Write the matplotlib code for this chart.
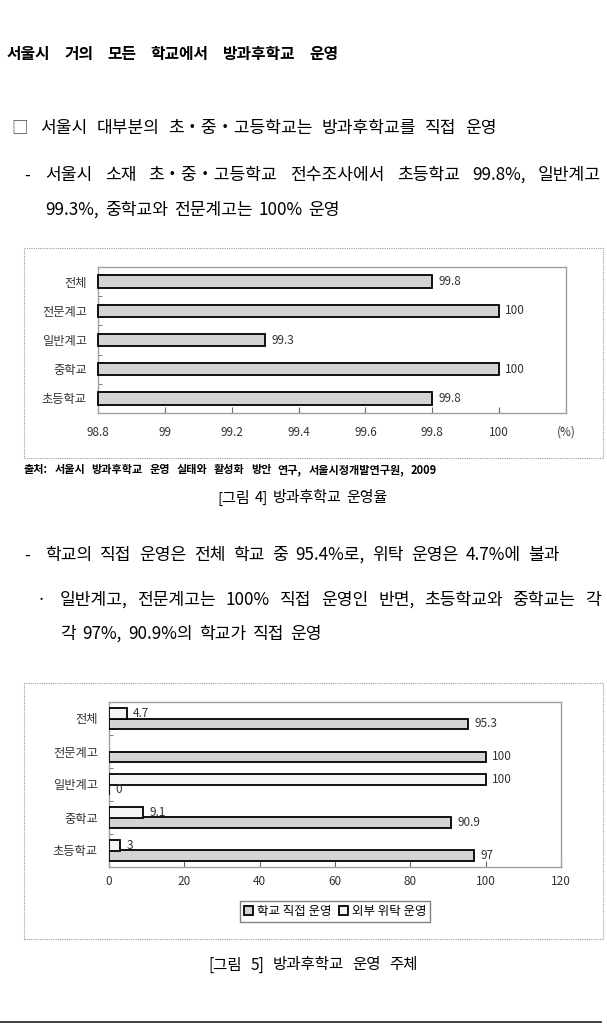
import numpy as np
import matplotlib
matplotlib.use("Agg")
import matplotlib.pyplot as plt
from matplotlib.patches import Rectangle, Patch
from matplotlib.lines import Line2D

plt.rcParams['font.family'] = ['Noto Sans CJK KR', 'DejaVu Sans']

# [그림 4] 방과후학교 운영율 (아래에서 위 순서)
cats = ['초등학교', '중학교', '일반계고', '전문계고', '전체']
rate = [99.8, 100, 99.3, 100, 99.8]
rate_ticks = [98.8, 99, 99.2, 99.4, 99.6, 99.8, 100, 100.2]
rate_labels = ['98.8', '99', '99.2', '99.4', '99.6', '99.8', '100', '(%)']

# [그림 5] 방과후학교 운영 주체
direct = [97, 90.9, 0, 100, 95.3]         # 학교 직접 운영
outsource = [3, 9.1, 100, None, 4.7]      # 외부 위탁 운영
share_ticks = [0, 20, 40, 60, 80, 100, 120]

W, H = 607, 1035
fig = plt.figure(figsize=(W / 100, H / 100), dpi=100)
renderer = fig.canvas.get_renderer()


def fx(x):
    return x / W


def fy(y):
    return 1 - y / H


def line(text, x0, x1, y, size=12.3, **kw):
    # 단어 사이 간격을 늘려 x0~x1 폭을 채운다 (양쪽 맞춤)
    words = text.split(' ')
    ts = [fig.text(0, fy(y), w, fontsize=size, va='center', **kw) for w in words]
    widths = [t.get_window_extent(renderer).width for t in ts]
    gap = (x1 - x0 - sum(widths)) / max(len(words) - 1, 1)
    x = x0
    for t, w in zip(ts, widths):
        t.set_x(fx(x))
        x += w + gap


def frame(x0, x1, y0, y1):
    fig.add_artist(Rectangle((fx(x0), fy(y1)), fx(x1) - fx(x0), fy(y0) - fy(y1),
                             transform=fig.transFigure, fill=False,
                             ec='#9a9a9a', lw=0.8, ls=(0, (1, 1))))


# 본문
line('서울시 거의 모든 학교에서 방과후학교 운영', 7, 338, 54, size=11.4, weight='bold')
fig.text(fx(11), fy(128), '□', fontsize=12, va='center', color='#444444')
line('서울시 대부분의 초・중・고등학교는 방과후학교를 직접 운영', 40, 497, 128)
fig.text(fx(24), fy(175), '-', fontsize=12, va='center')
line('서울시 소재 초・중・고등학교 전수조사에서 초등학교 99.8%, 일반계고', 45, 601, 175)
line('99.3%, 중학교와 전문계고는 100% 운영', 45, 340, 210)
line('출처: 서울시 방과후학교 운영 실태와 활성화 방안 연구, 서울시정개발연구원, 2009',
     24, 437, 470, size=8, weight='bold')
line('[그림 4] 방과후학교 운영율', 217, 388, 498, size=10.8)
fig.text(fx(24), fy(555), '-', fontsize=12, va='center')
line('학교의 직접 운영은 전체 학교 중 95.4%로, 위탁 운영은 4.7%에 불과', 45, 560, 555)
fig.text(fx(36), fy(600), '·', fontsize=12, va='center')
line('일반계고, 전문계고는 100% 직접 운영인 반면, 초등학교와 중학교는 각', 60, 601, 600)
line('각 97%, 90.9%의 학교가 직접 운영', 60, 322, 634)
line('[그림 5] 방과후학교 운영 주체', 208, 418, 965, size=11.2)
fig.add_artist(Line2D([0, fx(601)], [fy(1022), fy(1022)], color='#333333', lw=1.3))

gray = '#d4d4d4'
light = '#f5f5f5'
spine = '#a0a0a0'

# 그림 4
frame(24, 603, 248, 458)
ax1 = fig.add_axes([fx(98), fy(413), fx(566) - fx(98), fy(267) - fy(413)])
y = np.arange(len(cats))
ax1.barh(y, np.array(rate) - rate_ticks[0], left=rate_ticks[0], height=0.42,
         color=gray, edgecolor='black', lw=1.3, clip_on=False, zorder=3)
for i, v in enumerate(rate):
    ax1.annotate(f'{v:g}', (v, i), xytext=(4.5, 0), textcoords='offset points',
                 va='center', fontsize=8.5, color='#333333')
ax1.set_xlim(rate_ticks[0], rate_ticks[-1])
ax1.set_ylim(-0.5, len(cats) - 0.5)
ax1.set_xticks(rate_ticks, rate_labels)
ax1.get_xticklabels()[-1].set_color('#888888')
ax1.set_yticks(y, cats)
ax1.set_yticks(y[:-1] + 0.5, minor=True)

# 그림 5
frame(24, 603, 683, 939)
ax2 = fig.add_axes([fx(109), fy(867), fx(561) - fx(109), fy(702) - fy(867)])
h = 0.32
ax2.barh(y - h / 2, direct, height=h, color=gray, edgecolor='black', lw=1.3,
         zorder=3, label='학교 직접 운영')
oy = [i + h / 2 for i, v in enumerate(outsource) if v is not None]
ov = [v for v in outsource if v is not None]
ax2.barh(oy, ov, height=h, color=light, edgecolor='black', lw=1.3,
         zorder=3, label='외부 위탁 운영')
for i, v in enumerate(direct):
    ax2.annotate(f'{v:g}', (v, i - h / 2), xytext=(4.5, 0), textcoords='offset points',
                 va='center', fontsize=8.5, color='#333333')
for yy, v in zip(oy, ov):
    ax2.annotate(f'{v:g}', (v, yy), xytext=(4.5, 0), textcoords='offset points',
                 va='center', fontsize=8.5, color='#333333')
ax2.set_xlim(share_ticks[0], share_ticks[-1])
ax2.set_ylim(-0.5, len(cats) - 0.5)
ax2.set_xticks(share_ticks)
ax2.set_yticks(y, cats)
ax2.set_yticks(y[:-1] + 0.5, minor=True)

for ax, pad in ((ax1, 9), (ax2, 6)):
    for s in ax.spines.values():
        s.set_color(spine)
        s.set_linewidth(1)
    ax.tick_params(axis='x', direction='in', length=4, color='#666666',
                   labelsize=8.5, labelcolor='#333333', pad=pad)
    ax.tick_params(axis='y', which='major', length=0, labelsize=8.8,
                   labelcolor='#333333', pad=8)
    ax.tick_params(axis='y', which='minor', direction='in', length=3, color='#666666')

handles = [Patch(facecolor=gray, edgecolor='black', lw=1.3, label='학교 직접 운영'),
           Patch(facecolor=light, edgecolor='black', lw=1.3, label='외부 위탁 운영')]
fig.legend(handles=handles, loc='center', bbox_to_anchor=(fx(335), fy(911.5)),
           ncol=2, fontsize=9, fancybox=False, edgecolor='#808080',
           handlelength=0.75, handleheight=0.75, handletextpad=0.3,
           columnspacing=0.6, borderpad=0.3, framealpha=1)

fig.savefig('out.png', dpi=100)
